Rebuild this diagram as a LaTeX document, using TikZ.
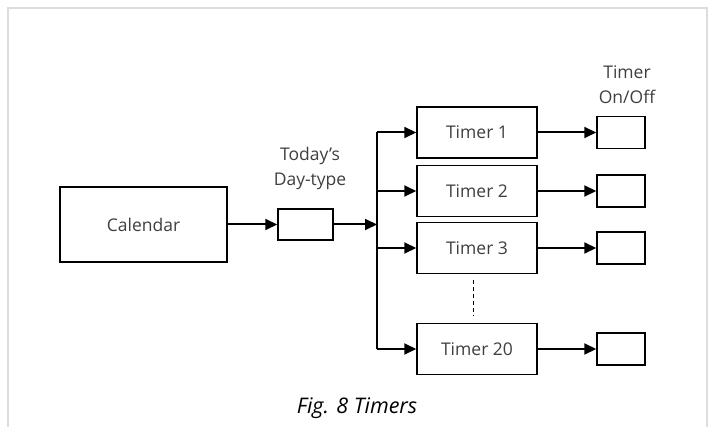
\documentclass[tikz,border=0pt]{standalone}
\usepackage{fontspec}
\setmainfont{Open Sans}
\usetikzlibrary{arrows.meta}
\definecolor{framegray}{HTML}{DDDDDD}
\definecolor{textgray}{HTML}{3F3F3F}
\begin{document}
\begin{tikzpicture}[x=1pt,y=-1pt,
  block/.style={draw=black,line width=1.5pt,minimum width=120pt,minimum height=51pt,
    inner sep=0pt,font=\fontsize{17.5}{20}\selectfont,text=textgray},
  smallbox/.style={draw=black,line width=1.5pt,minimum width=48pt,minimum height=32pt,inner sep=0pt},
  lbl/.style={align=center,font=\fontsize{17.5}{25}\selectfont,text=textgray,inner sep=0pt},
  link/.style={line width=2pt,-{Triangle[length=12pt,width=11pt]}},
  wire/.style={line width=2pt}]
\useasboundingbox (0,0) rectangle (708,427);
% page frame
\draw[framegray,line width=2pt] (8,427) -- (8,8.5) -- (707,8.5) -- (707,427);

% calendar and day-type
\node[block,minimum width=167pt,minimum height=75pt] (cal) at (143.5,224.5) {Calendar};
\node[smallbox,minimum width=55pt,minimum height=31pt] (today) at (305.5,224.5) {};
\node[lbl] (todaylbl) at (310,168) {Today’s\\Day-type};

% timers
\node[block] (t1) at (477,132.5) {Timer 1};
\node[block] (t2) at (477,191) {Timer 2};
\node[block] (t3) at (477,248) {Timer 3};
\node[block] (t20) at (477,349) {Timer 20};

% on/off outputs
\node[smallbox] (o1) at (621,132.5) {};
\node[smallbox] (o2) at (621,191) {};
\node[smallbox] (o3) at (621,248) {};
\node[smallbox] (o20) at (621,349) {};
\node[lbl] (onofflbl) at (627,85) {Timer\\On/Off};

% distribution bus
\coordinate (busin) at (377,224.5);
\coordinate (b1) at (377,132.5);
\coordinate (b2) at (377,191);
\coordinate (b3) at (377,248);
\coordinate (b20) at (377,349);
\draw[wire] (b1) -- (b20);

\draw[link] (cal) -- (today);
\draw[link] (today) -- (busin);
\draw[link] (b1) -- (t1);
\draw[link] (b2) -- (t2);
\draw[link] (b3) -- (t3);
\draw[link] (b20) -- (t20);
\draw[link] (t1) -- (o1);
\draw[link] (t2) -- (o2);
\draw[link] (t3) -- (o3);
\draw[link] (t20) -- (o20);

% ellipsis between timer 3 and timer 20
\coordinate (dtop) at (473,280);
\coordinate (dbot) at (473,316);
\draw[line width=0.9pt,dash pattern=on 4pt off 3pt] (dtop) -- (dbot);

% caption
\node[font=\fontsize{21.5}{24}\selectfont\itshape,inner sep=0pt] (cap) at (357,408) {Fig. 8 Timers};
\end{tikzpicture}
\end{document}
